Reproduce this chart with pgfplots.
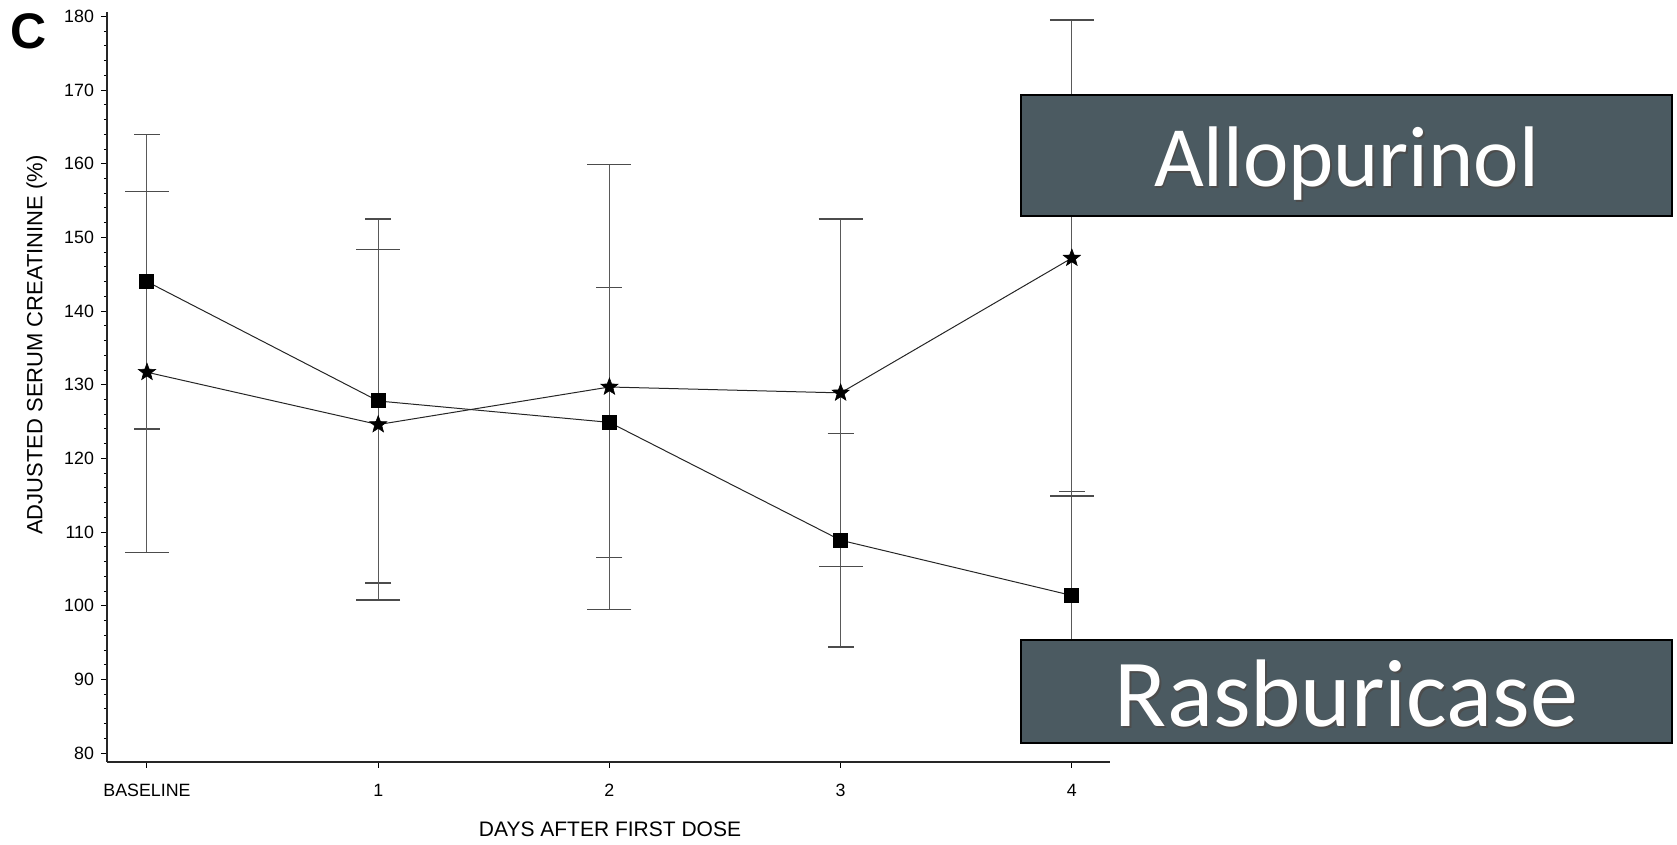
\documentclass[border=0pt]{standalone}
\usepackage{pgfplots}
\pgfplotsset{compat=1.18}
\usepackage{fontspec}
\setmainfont{Liberation Sans}
\newfontfamily\carlito{Carlito}
\definecolor{boxfill}{HTML}{4B5A61}
\pgfdeclareplotmark{fstar}{%
  \pgfpathmoveto{\pgfpointpolar{90}{\pgfplotmarksize}}%
  \pgfpathlineto{\pgfpointpolar{126}{0.42\pgfplotmarksize}}%
  \pgfpathlineto{\pgfpointpolar{162}{\pgfplotmarksize}}%
  \pgfpathlineto{\pgfpointpolar{198}{0.42\pgfplotmarksize}}%
  \pgfpathlineto{\pgfpointpolar{234}{\pgfplotmarksize}}%
  \pgfpathlineto{\pgfpointpolar{270}{0.42\pgfplotmarksize}}%
  \pgfpathlineto{\pgfpointpolar{306}{\pgfplotmarksize}}%
  \pgfpathlineto{\pgfpointpolar{342}{0.42\pgfplotmarksize}}%
  \pgfpathlineto{\pgfpointpolar{18}{\pgfplotmarksize}}%
  \pgfpathlineto{\pgfpointpolar{54}{0.42\pgfplotmarksize}}%
  \pgfpathclose
  \pgfusepathqfillstroke}
\begin{document}
\begin{tikzpicture}
\path[use as bounding box] (0,0) rectangle (838.5pt,422.5pt);
\begin{axis}[
  at={(53.5pt,41.5pt)}, anchor=south west,
  scale only axis, width=501.5pt, height=375pt,
  xmin=-0.173, xmax=4.165, ymin=78.8, ymax=180.6,
  axis x line=bottom, axis y line=left,
  axis line style={-, line width=0.7pt, black!85},
  xtick={0,1,2,3,4}, xticklabels={BASELINE,1,2,3,4},
  ytick={80,90,...,180}, minor y tick num=4,
  tick align=outside, major tick length=3pt, minor tick length=1.6pt,
  every tick/.style={black, line width=0.5pt},
  tick label style={font=\fontsize{8.9}{10}\selectfont},
  xticklabel style={yshift=-4.5pt},
  /pgf/number format/assume math mode=true,
  xlabel={DAYS AFTER FIRST DOSE},
  ylabel={ADJUSTED SERUM CREATININE (\%)},
  xlabel style={at={(axis description cs:0.5015,-0.0893)}, anchor=center, font=\fontsize{10.5}{12}\selectfont},
  ylabel style={at={(axis description cs:-0.0700,0.556)}, anchor=center, font=\fontsize{11}{12}\selectfont},
]
% Rasburicase (squares)
\addplot[black!85, line width=0.5pt, mark=square*, mark size=3.5pt,
  mark options={solid, fill=black, draw=black},
  error bars/.cd, y dir=both, y explicit,
  error bar style={line width=0.5pt, black!65},
  error mark=|, error mark options={line width=0.6pt, black!70, mark size=6.5pt}]
coordinates {
(0,144) +- (0,20)
(1,127.8) +- (0,24.7)
(2,124.9) +- (0,18.3)
(3,108.9) +- (0,14.5)
(4,101.4) +- (0,14.1)
};
% Allopurinol (stars)
\addplot[black!85, line width=0.5pt, mark=fstar, mark size=4.5pt,
  mark options={solid, fill=black, draw=black, line width=0.3pt},
  error bars/.cd, y dir=both, y explicit,
  error bar style={line width=0.5pt, black!65},
  error mark=|, error mark options={line width=0.6pt, black!70, mark size=11pt}]
coordinates {
(0,131.7) +- (0,24.5)
(1,124.6) +- (0,23.8)
(2,129.7) +- (0,30.2)
(3,128.9) +- (0,23.6)
(4,147.2) +- (0,32.3)
};
\end{axis}
\node at (14.5pt,407pt) {\bfseries\fontsize{25}{26}\selectfont C};
\draw[line width=1pt, fill=boxfill] (510.5pt,314.5pt) rectangle (836pt,375pt);
\draw[line width=1pt, fill=boxfill] (510.5pt,51pt) rectangle (836pt,102.5pt);
\node[anchor=base, text=black!70] at (674.0pt,328.3pt) {\carlito\fontsize{43}{43}\selectfont Allopurinol};
\node[anchor=base, text=white] at (673.25pt,329pt) {\carlito\fontsize{43}{43}\selectfont Allopurinol};
\node[anchor=base, text=black!70] at (674.0pt,58.3pt) {\carlito\fontsize{48}{48}\selectfont Rasburicase};
\node[anchor=base, text=white] at (673.25pt,59pt) {\carlito\fontsize{48}{48}\selectfont Rasburicase};
\end{tikzpicture}
\end{document}
